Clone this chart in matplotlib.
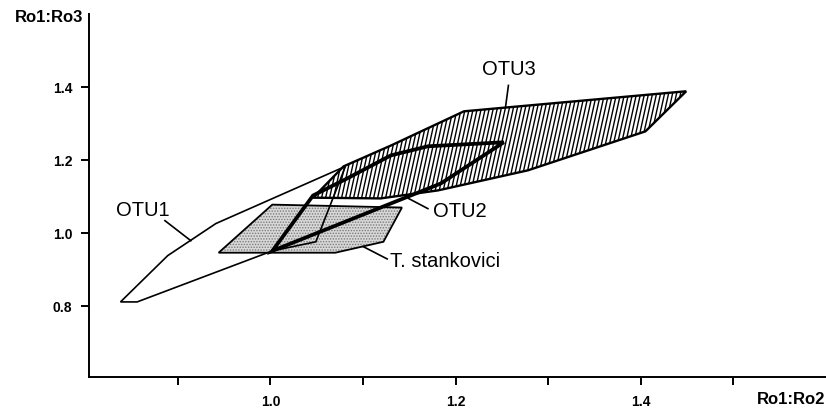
#!/usr/bin/env python3

import numpy as np
import matplotlib
matplotlib.use("Agg")
import matplotlib.pyplot as plt
from matplotlib.patches import Polygon


# polygon outlines (Ro1:Ro2, Ro1:Ro3)
otu1_x = [0.838, 0.889, 0.941, 1.081, 1.049, 1.002, 0.856]
otu1_y = [0.810, 0.937, 1.025, 1.182, 0.975, 0.950, 0.810]

stank_x = [0.944, 1.002, 1.142, 1.122, 1.070]
stank_y = [0.945, 1.077, 1.069, 0.975, 0.945]

otu2_x = [1.002, 1.046, 1.083, 1.130, 1.170, 1.252, 1.184]
otu2_y = [0.950, 1.102, 1.149, 1.212, 1.237, 1.248, 1.135]

otu3_x = [1.046, 1.079, 1.130, 1.209, 1.449, 1.405, 1.278, 1.181, 1.119]
otu3_y = [1.096, 1.182, 1.239, 1.333, 1.388, 1.278, 1.171, 1.116, 1.094]

x_ticks = [0.9, 1.0, 1.1, 1.2, 1.3, 1.4, 1.5]
x_labels = ["", "1.0", "", "1.2", "", "1.4", ""]
y_ticks = [0.8, 1.0, 1.2, 1.4]
y_labels = ["0.8", "1.0", "1.2", "1.4"]

# label text, text anchor, leader line start/end
labels = [
    ("OTU1", (0.862, 1.063), (0.886, 1.033), (0.914, 0.978)),
    ("OTU2", (1.205, 1.060), (1.170, 1.066), (1.149, 1.094)),
    ("OTU3", (1.257, 1.451), (1.257, 1.404), (1.254, 1.347)),
    ("T. stankovici", (1.129, 0.923), (1.126, 0.928), (1.100, 0.962)),
]

XLIM = (0.804, 1.60)
YLIM = (0.604, 1.60)


def hatch_polygon(ax, xs, ys, spacing_px=4.0, slant=0.22, lw=1.0):
    patch = Polygon(np.column_stack([xs, ys]), closed=True, facecolor="none", edgecolor="none")
    ax.add_patch(patch)
    bbox = ax.get_position()
    fig_w, fig_h = ax.figure.get_size_inches() * ax.figure.dpi
    px_x = (XLIM[1] - XLIM[0]) / (bbox.width * fig_w)
    px_y = (YLIM[1] - YLIM[0]) / (bbox.height * fig_h)
    y0, y1 = min(ys), max(ys)
    dx = slant * (y1 - y0) / px_y * px_x
    for x0 in np.arange(min(xs) - dx, max(xs) + dx, spacing_px * px_x):
        line, = ax.plot([x0, x0 + dx], [y0, y1], color="black", lw=lw, zorder=3)
        line.set_clip_path(patch)


def main() -> None:
    plt.rcParams["font.family"] = ["Liberation Sans", "DejaVu Sans"]

    fig = plt.figure(figsize=(8.26, 4.10), dpi=100)
    ax = fig.add_axes([89 / 826, 32 / 410, 737 / 826, 363 / 410])
    ax.set_xlim(*XLIM)
    ax.set_ylim(*YLIM)

    # T. stankovici: stippled grey
    ax.add_patch(Polygon(np.column_stack([stank_x, stank_y]), closed=True,
                         facecolor="#d8d8d8", edgecolor="none", zorder=1))
    plt.rcParams["hatch.linewidth"] = 0.7
    ax.add_patch(Polygon(np.column_stack([stank_x, stank_y]), closed=True,
                         facecolor="none", edgecolor="#7a7a7a", hatch="......", lw=0, zorder=1.5))
    ax.add_patch(Polygon(np.column_stack([stank_x, stank_y]), closed=True,
                         facecolor="none", edgecolor="black", lw=1.3, zorder=2))

    # OTU3: hatched
    hatch_polygon(ax, otu3_x, otu3_y)
    ax.add_patch(Polygon(np.column_stack([otu3_x, otu3_y]), closed=True,
                         facecolor="none", edgecolor="black", lw=1.7, zorder=4))

    # OTU1: thin outline
    ax.add_patch(Polygon(np.column_stack([otu1_x, otu1_y]), closed=True,
                         facecolor="none", edgecolor="black", lw=1.2, joinstyle="miter", zorder=5))

    # OTU2: heavy outline
    ax.add_patch(Polygon(np.column_stack([otu2_x, otu2_y]), closed=True,
                         facecolor="none", edgecolor="black", lw=2.7, joinstyle="miter", zorder=6))

    for text, (tx, ty), (lx0, ly0), (lx1, ly1) in labels:
        ax.plot([lx0, lx1], [ly0, ly1], color="black", lw=1.2, zorder=6)
        ha = "left" if text.startswith("T.") else "center"
        ax.text(tx, ty, text, fontsize=14.5, ha=ha, va="center", zorder=7)

    for side in ("top", "right"):
        ax.spines[side].set_visible(False)
    for side in ("left", "bottom"):
        ax.spines[side].set_linewidth(1.4)

    ax.set_xticks(x_ticks)
    ax.set_xticklabels(x_labels, fontsize=10, fontweight="bold")
    ax.set_yticks(y_ticks)
    ax.set_yticklabels(y_labels, fontsize=10, fontweight="bold")
    ax.tick_params(direction="out", length=6, width=1.4, pad=6)

    fig.text(83 / 826, 1 - 17 / 410, "Ro1:Ro3", fontsize=12, fontweight="bold", ha="right", va="center")
    fig.text(825 / 826, 1 - 400 / 410, "Ro1:Ro2", fontsize=12, fontweight="bold", ha="right", va="center")

    fig.savefig("out.png", dpi=100)
    plt.close(fig)


if __name__ == "__main__":
    main()
